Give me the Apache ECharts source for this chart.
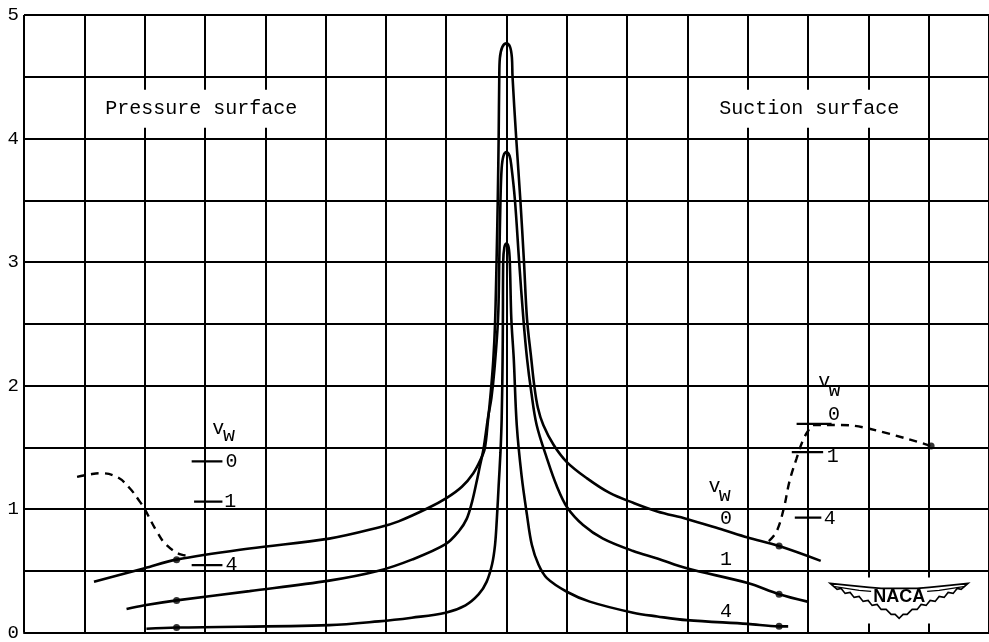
<!DOCTYPE html>
<html><head><meta charset="utf-8">
<script src="https://cdn.jsdelivr.net/npm/echarts@6/dist/echarts.min.js"></script>
<style>html,body{margin:0;padding:0;background:#fff;}#c{width:989px;height:642px;}</style>
</head><body><div id="c"></div>
<script>
// ---- data ----
const yTickLabels = ['0', '1', '2', '3', '4', '5'];
const curveNames = ['0', '1', '4'];

const v0X = [-6.84, -6.0, -5.47, -4.26, -2.94, -2.12, -1.79, -1.29, -0.99, -0.74, -0.55, -0.43, -0.36, -0.31, -0.26, -0.22, -0.19, -0.165, -0.145, -0.13, -0.12, -0.11, -0.07, 0, 0.06, 0.09, 0.10, 0.16, 0.23, 0.29, 0.34, 0.41, 0.46, 0.52, 0.61, 0.78, 1.00, 1.33, 1.71, 2.10, 2.50, 2.99, 3.60, 4.00, 4.52, 5.21];
const v0Y = [0.41, 0.52, 0.59, 0.68, 0.76, 0.85, 0.90, 1.01, 1.09, 1.18, 1.29, 1.40, 1.49, 1.70, 1.95, 2.20, 2.50, 3.00, 3.50, 4.01, 4.49, 4.65, 4.74, 4.77, 4.74, 4.65, 4.50, 4.01, 3.50, 3.00, 2.54, 2.22, 2.00, 1.82, 1.68, 1.52, 1.38, 1.25, 1.13, 1.05, 0.98, 0.92, 0.83, 0.77, 0.70, 0.58];

const v1X = [-6.30, -6.0, -5.47, -4.26, -2.94, -2.12, -1.57, -1.01, -0.79, -0.66, -0.57, -0.50, -0.44, -0.38, -0.31, -0.25, -0.20, -0.14, -0.12, -0.10, -0.08, -0.05, 0, 0.05, 0.08, 0.14, 0.21, 0.28, 0.34, 0.41, 0.50, 0.67, 0.83, 1.01, 1.27, 1.60, 2.10, 2.50, 2.99, 4.00, 4.52, 4.99];
const v1Y = [0.19, 0.22, 0.26, 0.335, 0.42, 0.50, 0.59, 0.715, 0.82, 0.92, 1.06, 1.21, 1.35, 1.49, 1.73, 1.90, 2.13, 2.54, 3.00, 3.50, 3.76, 3.86, 3.89, 3.86, 3.78, 3.50, 3.00, 2.54, 2.22, 1.95, 1.68, 1.41, 1.19, 1.01, 0.87, 0.76, 0.66, 0.60, 0.52, 0.40, 0.31, 0.25];

const v4X = [-5.97, -5.47, -2.94, -2.12, -1.57, -1.01, -0.68, -0.46, -0.33, -0.24, -0.19, -0.16, -0.13, -0.10, -0.08, -0.065, -0.06, -0.055, -0.035, 0, 0.035, 0.055, 0.08, 0.12, 0.17, 0.25, 0.34, 0.42, 0.53, 0.67, 1.00, 1.38, 2.10, 2.50, 2.99, 4.00, 4.52, 4.67];
const v4Y = [0.03, 0.04, 0.06, 0.09, 0.12, 0.16, 0.22, 0.31, 0.41, 0.55, 0.71, 0.92, 1.19, 1.46, 1.73, 2.20, 2.54, 3.00, 3.12, 3.15, 3.12, 3.00, 2.54, 2.22, 1.68, 1.27, 0.95, 0.71, 0.55, 0.44, 0.33, 0.25, 0.16, 0.13, 0.10, 0.07, 0.05, 0.05];

const dashLX = [-7.12, -6.91, -6.74, -6.46, -6.25, -6.08, -6.0, -5.80, -5.64, -5.39, -5.22];
const dashLY = [1.26, 1.28, 1.29, 1.26, 1.17, 1.06, 1.00, 0.82, 0.71, 0.63, 0.62];

const dashRX = [4.35, 4.48, 4.60, 4.69, 4.81, 4.91, 5.01, 5.09, 5.54, 6.02, 7.04];
const dashRY = [0.74, 0.82, 1.01, 1.22, 1.41, 1.55, 1.64, 1.68, 1.68, 1.65, 1.51];

const dotX = [-5.47, -5.47, -5.47, 4.52, 4.52, 4.52, 7.04];
const dotY = [0.59, 0.26, 0.04, 0.70, 0.31, 0.05, 1.51];

// short reference marks for v_w = 0, 1, 4
const markLeftY = [1.385, 1.06, 0.545];
const markLeftX0 = [-5.22, -5.18, -5.22];
const markLeftX1 = [-4.71, -4.71, -4.71];
const markRightY = [1.69, 1.46, 0.93];
const markRightX0 = [4.81, 4.73, 4.78];
const markRightX1 = [5.39, 5.25, 5.22];

// ---- chart ----
const FONT = '"Liberation Mono", "DejaVu Sans Mono", monospace';
const zip = (xs, ys) => xs.map((x, i) => [x, ys[i]]);
const chart = echarts.init(document.getElementById('c'), null, {renderer: 'canvas'});

const curve = (xs, ys) => ({
  type: 'line', data: zip(xs, ys), smooth: 0.35, showSymbol: false, z: 3,
  lineStyle: {color: '#000', width: 2.6}, silent: true
});
const dashed = (xs, ys) => ({
  type: 'line', data: zip(xs, ys), smooth: 0.4, showSymbol: false, z: 3,
  lineStyle: {color: '#000', width: 2.4, type: [8, 6]}, silent: true
});
const series = [curve(v0X, v0Y), curve(v1X, v1Y), curve(v4X, v4Y), dashed(dashLX, dashLY), dashed(dashRX, dashRY)];
markLeftY.forEach((y, i) => series.push({type: 'line', data: [[markLeftX0[i], y], [markLeftX1[i], y]], showSymbol: false, z: 3, lineStyle: {color: '#000', width: 2.2}}));
markRightY.forEach((y, i) => series.push({type: 'line', data: [[markRightX0[i], y], [markRightX1[i], y]], showSymbol: false, z: 3, lineStyle: {color: '#000', width: 2.2}}));
series.push({type: 'scatter', data: zip(dotX, dotY), symbol: 'circle', symbolSize: 7, itemStyle: {color: '#000'}, z: 4});

chart.setOption({
  animation: false,
  backgroundColor: '#fff',
  grid: {left: 24, right: -3, top: 15, bottom: 7},
  xAxis: {
    type: 'value', min: -8, max: 8, interval: 1,
    axisLabel: {show: false}, axisTick: {show: false},
    axisLine: {show: true, lineStyle: {color: '#000', width: 2}},
    splitLine: {show: true, lineStyle: {color: '#000', width: 2}}
  },
  yAxis: {
    type: 'value', min: 0, max: 5, interval: 0.5,
    axisLabel: {
      formatter: v => (Math.abs(v - Math.round(v)) < 1e-6 ? yTickLabels[Math.round(v)] : ''),
      color: '#000', fontFamily: FONT, fontSize: 19, margin: 5
    },
    axisTick: {show: false},
    axisLine: {show: true, lineStyle: {color: '#000', width: 2}},
    splitLine: {show: true, lineStyle: {color: '#000', width: 2}}
  },
  series: series
});

// ---- annotations (anchored in data coordinates) ----
const notes = [
  {x: -5.06, y: 4.24, t: 'Pressure surface', box: true},
  {x: 5.02, y: 4.24, t: 'Suction surface', box: true},
  {x: -4.78, y: 1.65, t: 'v'}, {x: -4.60, y: 1.595, t: 'w'},
  {x: -4.56, y: 1.385, t: curveNames[0]}, {x: -4.58, y: 1.06, t: curveNames[1]}, {x: -4.56, y: 0.55, t: curveNames[2]},
  {x: 5.27, y: 2.03, t: 'v'}, {x: 5.44, y: 1.96, t: 'w'},
  {x: 5.43, y: 1.76, t: curveNames[0]}, {x: 5.41, y: 1.42, t: curveNames[1]}, {x: 5.36, y: 0.92, t: curveNames[2]},
  {x: 3.45, y: 1.18, t: 'v'}, {x: 3.62, y: 1.11, t: 'w'},
  {x: 3.64, y: 0.92, t: curveNames[0]}, {x: 3.64, y: 0.59, t: curveNames[1]}, {x: 3.64, y: 0.17, t: curveNames[2]}
];
const P = (x, y) => chart.convertToPixel({gridIndex: 0}, [x, y]);
const graphics = [];
notes.forEach(n => {
  const p = P(n.x, n.y);
  const st = {text: n.t, x: 0, y: 0, font: '20px ' + FONT, fill: '#000',
    align: 'center', verticalAlign: 'middle', textAlign: 'center', textVerticalAlign: 'middle'};
  if (n.box) { st.backgroundColor = '#fff'; st.padding = [9, 6]; }
  graphics.push({type: 'text', x: p[0], y: p[1], z: 20, style: st});
});

// NACA emblem
const ctr = P(6.51, 0.26);
const wingHalf = [[-69, -17], [-62, -11], [-58, -12], [-54, -7], [-49, -8], [-45, -3], [-40, -4], [-36, 1], [-31, 0], [-27, 5], [-22, 4], [-18, 9], [-13, 9], [-8, 14], [-4, 14], [0, 18]];
const wingTop = [[-50, -15], [-30, -13], [-18, -12], [0, -12], [18, -12], [30, -13], [50, -15]];
const pts = [];
wingHalf.forEach(p => pts.push([ctr[0] + p[0], ctr[1] + p[1]]));
wingHalf.slice(0, -1).reverse().forEach(p => pts.push([ctr[0] - p[0], ctr[1] + p[1]]));
pts.push([ctr[0] + 69, ctr[1] - 17]);
wingTop.slice().reverse().forEach(p => pts.push([ctr[0] + p[0], ctr[1] + p[1]]));
graphics.push({type: 'rect', z: 18, shape: {x: ctr[0] - 72, y: ctr[1] - 23, width: 146, height: 46}, style: {fill: '#fff'}});
graphics.push({type: 'polygon', z: 19, shape: {points: pts}, style: {fill: '#fff', stroke: '#000', lineWidth: 1.6}});
graphics.push({type: 'polyline', z: 19, shape: {points: [[ctr[0] - 66, ctr[1] - 14], [ctr[0] - 40, ctr[1] - 10], [ctr[0] - 28, ctr[1] - 9]]}, style: {stroke: '#000', lineWidth: 1.2, fill: null}});
graphics.push({type: 'polyline', z: 19, shape: {points: [[ctr[0] + 66, ctr[1] - 14], [ctr[0] + 40, ctr[1] - 10], [ctr[0] + 28, ctr[1] - 9]]}, style: {stroke: '#000', lineWidth: 1.2, fill: null}});
graphics.push({type: 'text', z: 21, x: ctr[0], y: ctr[1] - 3, style: {text: 'NACA', x: 0, y: 0,
  font: 'bold 18px "Liberation Sans", Arial, sans-serif', fill: '#000',
  align: 'center', verticalAlign: 'middle', textAlign: 'center', textVerticalAlign: 'middle'}});

chart.setOption({graphic: graphics});
</script>
</body></html>
